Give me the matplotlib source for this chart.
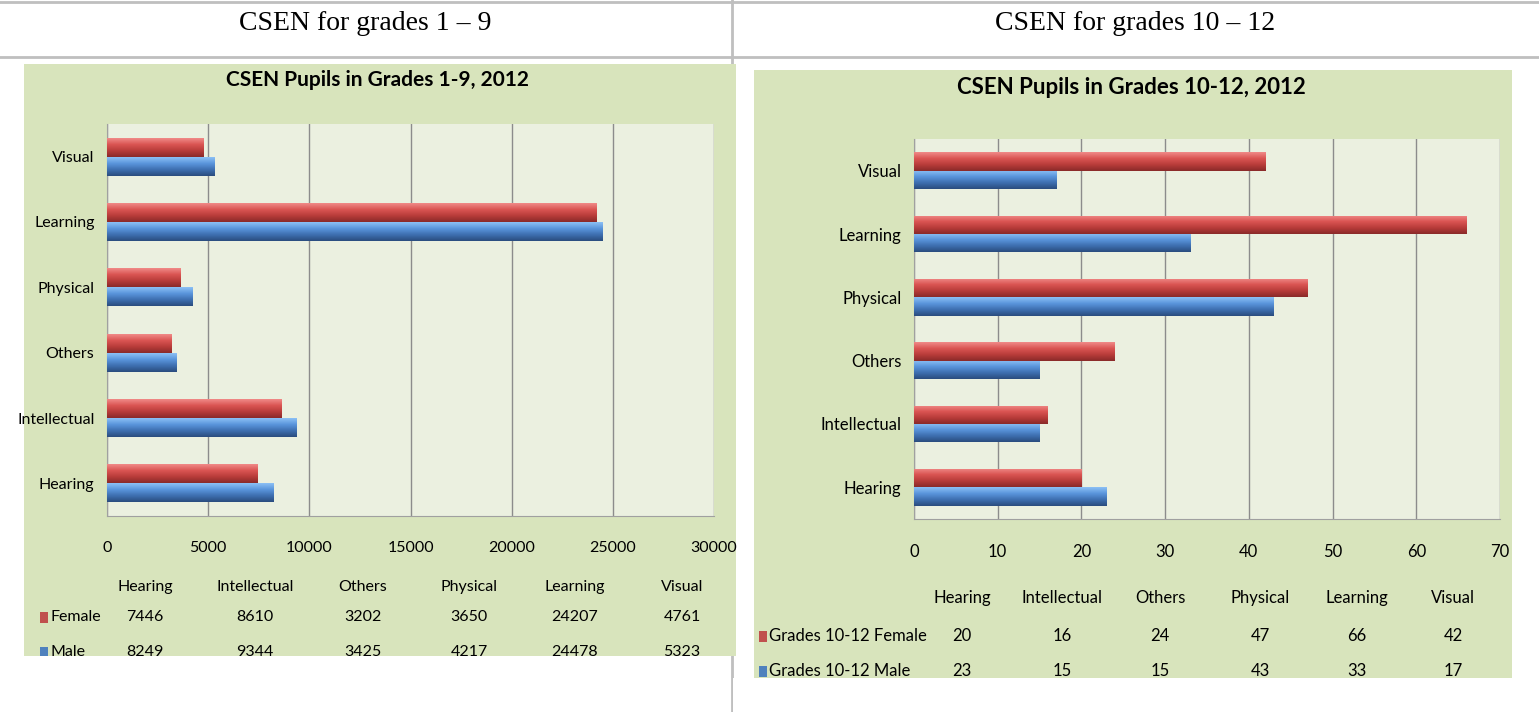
import numpy as np
import matplotlib
matplotlib.use("Agg")
import matplotlib.pyplot as plt
from matplotlib import font_manager
from matplotlib.patches import Rectangle
from matplotlib.lines import Line2D
from matplotlib.colors import LinearSegmentedColormap

# ---------------- data ----------------
categories = ["Hearing", "Intellectual", "Others", "Physical", "Learning", "Visual"]
female_1_9 = [7446, 8610, 3202, 3650, 24207, 4761]
male_1_9 = [8249, 9344, 3425, 4217, 24478, 5323]
female_10_12 = [20, 16, 24, 47, 66, 42]
male_10_12 = [23, 15, 15, 43, 33, 17]
ticks_1_9 = [0, 5000, 10000, 15000, 20000, 25000, 30000]
ticks_10_12 = [0, 10, 20, 30, 40, 50, 60, 70]
header_left = "CSEN for grades 1 \u2013 9"
header_right = "CSEN for grades 10 \u2013 12"
title_left = "CSEN Pupils in Grades 1-9, 2012"
title_right = "CSEN Pupils in Grades 10-12, 2012"
series_left = ["Female", "Male"]
series_right = ["Grades 10-12 Female", "Grades 10-12 Male"]

# ---------------- fonts ----------------
names = {f.name for f in font_manager.fontManager.ttflist}
NARROW = next((n for n in ["Liberation Sans Narrow", "Lato", "Roboto"] if n in names), "DejaVu Sans")
SERIF = "Liberation Serif" if "Liberation Serif" in names else "DejaVu Serif"

W, H = 1539, 712
fig = plt.figure(figsize=(W / 100, H / 100), dpi=100)
fig.patch.set_facecolor("white")


def fx(x):
    return x / W


def fy(y):
    return 1 - y / H


PANEL = "#D8E4BC"
PLOTBG = "#EBF0E0"
GRID = "#8C8C8C"
BORDER = "#BFBFBF"

# table borders
fig.add_artist(Line2D([0, 1], [fy(1.5), fy(1.5)], color=BORDER, lw=2, zorder=0))
fig.add_artist(Line2D([0, 1], [fy(57), fy(57)], color=BORDER, lw=2, zorder=0))
fig.add_artist(Line2D([fx(731.5), fx(731.5)], [0, 1], color=BORDER, lw=2, zorder=0))

fig.text(fx(365), fy(23), header_left, family=SERIF, fontsize=20, ha="center", va="center")
fig.text(fx(1135), fy(23), header_right, family=SERIF, fontsize=20, ha="center", va="center")

# green panels
fig.add_artist(Rectangle((fx(24), fy(656)), fx(736 - 24), (656 - 64) / H,
                         transform=fig.transFigure, facecolor=PANEL, edgecolor="none", zorder=1))
fig.add_artist(Rectangle((fx(754), fy(678)), fx(1512 - 754), (678 - 70) / H,
                         transform=fig.transFigure, facecolor=PANEL, edgecolor="none", zorder=1))

fig.text(fx(377), fy(80), title_left, family=NARROW, fontsize=15, fontweight="bold",
         ha="center", va="center", zorder=3)
fig.text(fx(1131), fy(87), title_right, family=NARROW, fontsize=16, fontweight="bold",
         ha="center", va="center", zorder=3)

RED_GRAD = ["#F08A88", "#DA5553", "#B83C3A", "#8A2A29"]
BLUE_GRAD = ["#8CC0F5", "#5A95DC", "#3E6FB0", "#2A4C7E"]


def grad_bar(ax, y, w, h, colors):
    bars = ax.barh(y, w, height=h, color=colors[2], edgecolor="none", zorder=3)
    cmap = LinearSegmentedColormap.from_list("g", colors[::-1])
    grad = np.linspace(0, 1, 64).reshape(-1, 1)
    for b in bars:
        x0, y0, bw, bh = b.get_x(), b.get_y(), b.get_width(), b.get_height()
        im = ax.imshow(grad, extent=(x0, x0 + bw, y0, y0 + bh), origin="lower",
                       cmap=cmap, aspect="auto", zorder=4, interpolation="bilinear")
        im.set_clip_path(b)
    return bars


def make_chart(rect, female, male, ticks, fs_tick, xpad):
    l, t, r, b = rect
    ax = fig.add_axes([fx(l), fy(b), fx(r - l), (b - t) / H], zorder=2)
    ax.set_facecolor(PLOTBG)
    y = np.arange(len(categories))
    h = 0.29
    grad_bar(ax, y + h / 2, female, h, RED_GRAD)
    grad_bar(ax, y - h / 2, male, h, BLUE_GRAD)
    ax.set_xlim(ticks[0], ticks[-1])
    ax.set_ylim(-0.5, len(categories) - 0.5)
    ax.set_xticks(ticks)
    ax.set_xticklabels([str(t) for t in ticks], family=NARROW, fontsize=fs_tick)
    ax.set_yticks(y)
    ax.set_yticklabels(categories, family=NARROW, fontsize=fs_tick)
    ax.tick_params(axis="both", length=0)
    ax.tick_params(axis="x", pad=xpad)
    ax.tick_params(axis="y", pad=9)
    ax.grid(axis="x", color=GRID, lw=1)
    ax.set_axisbelow(True)
    for s in ["top", "right"]:
        ax.spines[s].set_visible(False)
    for s in ["left", "bottom"]:
        ax.spines[s].set_color("#A0A0A0")
    return ax


make_chart((107, 124, 714, 516), female_1_9, male_1_9, ticks_1_9, 11.5, 18)
make_chart((914, 139, 1500, 519), female_10_12, male_10_12, ticks_10_12, 12, 18)


def data_table(cols_x, header_y, row_ys, label_x, labels, series, fs):
    for cx, name in zip(cols_x, categories):
        fig.text(fx(cx), fy(header_y), name, family=NARROW, fontsize=fs, ha="center", va="center", zorder=3)
    for ry, lab, vals, col in zip(row_ys, labels, series, ["#C0504D", "#4F81BD"]):
        fig.add_artist(Rectangle((fx(label_x - 10), fy(ry + 6)), fx(8), 11 / H, transform=fig.transFigure,
                                 facecolor=col, edgecolor="none", zorder=3))
        fig.text(fx(label_x), fy(ry), lab, family=NARROW, fontsize=fs, ha="left", va="center", zorder=3)
        for cx, v in zip(cols_x, vals):
            fig.text(fx(cx), fy(ry), str(v), family=NARROW, fontsize=fs, ha="center", va="center", zorder=3)


data_table([145, 255, 363, 469, 575, 682], 587, [617, 652], 50, series_left,
           [female_1_9, male_1_9], 11.5)
data_table([962, 1062, 1160, 1260, 1357, 1453], 598, [636, 671], 769, series_right,
           [female_10_12, male_10_12], 12)

# white masks to emulate the cut-off at the bottom of the pasted charts
fig.add_artist(Rectangle((fx(0), 0), fx(730.5), fy(656), transform=fig.transFigure,
                         facecolor="white", edgecolor="none", zorder=5))
fig.add_artist(Rectangle((fx(732.5), 0), fx(W - 732.5), fy(678), transform=fig.transFigure,
                         facecolor="white", edgecolor="none", zorder=5))

fig.savefig("out.png", dpi=100)
